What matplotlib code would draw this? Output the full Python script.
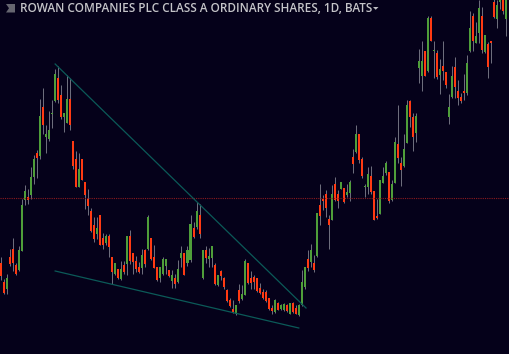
import matplotlib
matplotlib.use("Agg")
import matplotlib.pyplot as plt
from matplotlib.patches import Polygon

TITLE = "ROWAN COMPANIES PLC CLASS A ORDINARY SHARES, 1D, BATS"

opens = [91,72,65,97,105,89,84,103,154,157,159,177,201,198,247,217,215,240,253,276,259,237,231,255,213,195,167,195,172,155,143,129,120,139,116,111,118,97,80,85,75,89,90,118,101,93,87,86,104,105,116,97,87,76,80,88,84,73,76,72,96,101,91,94,126,127,139,76,104,95,96,89,69,83,76,64,54,45,40,64,55,59,91,76,77,76,66,62,62,56,46,42,51,45,44,49,40,51,46,39,49,67,95,92,91,98,149,155,160,135,134,170,160,165,166,159,161,197,202,220,195,167,167,178,163,138,140,171,181,182,154,171,210,191,188,211,253,237,221,286,278,303,283,336,303,301,279,288,282,237,257,287,263,257,263,261,303,338,311,321,338,302,310,313,352,335,352,358,335]
highs = [97,75,80,105,116,91,108,155,169,165,187,199,204,255,266,229,243,254,285,288,269,241,279,276,213,203,201,195,172,165,146,137,137,139,121,120,120,97,91,85,93,93,118,124,101,98,92,105,105,139,116,109,87,87,97,95,84,84,80,94,108,101,108,139,132,152,150,104,108,106,108,91,79,84,77,65,56,54,49,70,69,95,91,83,79,76,71,65,64,56,49,55,52,50,51,50,51,52,49,50,84,87,104,110,99,141,170,159,164,139,169,177,164,172,166,170,174,205,229,220,197,170,187,188,163,155,174,187,193,182,174,217,249,197,220,254,254,241,241,305,313,303,338,338,313,304,295,313,282,260,288,297,274,261,280,299,343,341,332,354,347,319,312,313,356,354,360,360,360]
lows = [74,60,60,88,83,79,83,103,149,150,155,170,176,195,220,201,213,226,252,251,235,222,231,224,185,167,167,174,145,139,122,112,115,109,105,109,97,70,79,75,74,80,79,90,80,82,81,80,87,104,94,86,73,72,79,80,77,66,66,71,87,79,88,92,116,125,116,75,91,87,87,69,68,74,65,52,47,41,39,51,54,59,70,65,65,62,60,55,52,44,40,41,44,44,43,42,40,41,40,38,48,65,83,87,82,97,129,144,137,105,134,153,146,165,151,157,153,181,201,191,176,157,160,160,134,135,140,171,179,151,153,171,191,168,187,211,227,203,212,271,263,278,282,313,276,275,260,274,266,230,256,256,249,251,254,259,302,303,311,311,301,301,276,291,336,326,345,340,318]
closes = [78,61,76,90,91,80,104,149,163,154,177,195,196,238,229,220,224,241,280,254,237,241,255,229,188,167,185,174,159,148,123,115,126,109,109,118,107,82,91,76,85,82,118,93,92,85,82,99,90,137,95,86,74,87,95,95,78,79,70,85,101,79,104,130,117,143,120,104,96,98,108,70,79,78,67,53,48,42,49,53,60,93,71,71,72,63,61,56,53,45,43,54,44,49,50,43,51,42,40,49,72,87,86,104,84,141,138,153,146,129,160,154,153,172,152,162,172,190,220,194,178,168,180,162,134,136,174,178,191,153,170,212,196,184,205,249,237,217,238,293,293,278,336,313,304,277,285,283,269,247,278,267,256,253,261,291,326,313,318,346,304,319,287,311,337,349,358,343,358]

level_price = 156
upper_x = [18, 101.4]
upper_price = [290, 46]
lower_x = [18, 99]
lower_price = [83, 26]

BG = "#05011a"
UP = "#4f9e3a"
DOWN = "#ff3a12"
WICK = "#6d6d7c"
TREND = "#0b5a58"

fig = plt.figure(figsize=(5.09, 3.54), dpi=100, facecolor=BG)
ax = fig.add_axes([0, 0, 1, 1], facecolor=BG)
idx = list(range(len(opens)))
ax.set_xlim(-1 / 3.008, 508 / 3.008)
ax.set_ylim(0, 354)
ax.axis("off")

ax.vlines(idx, lows, highs, colors=WICK, linewidth=0.72, zorder=2)
bottoms = [min(o, c) for o, c in zip(opens, closes)]
heights = [max(abs(c - o), 1.5) for o, c in zip(opens, closes)]
colors = [UP if c >= o else DOWN for o, c in zip(opens, closes)]
ax.bar(idx, heights, bottom=bottoms, width=0.67, color=colors, linewidth=0, zorder=3)

ax.axhline(level_price, color="#8c1a1e", linewidth=0.8, linestyle=(0, (1, 1)), zorder=4)
ax.plot(upper_x, upper_price, color=TREND, linewidth=0.9, zorder=5)
ax.plot(lower_x, lower_price, color=TREND, linewidth=0.9, zorder=5)

tr = ax.transAxes
W, H = 509.0, 354.0
icon = [(6/W, 1-4/H), (15/W, 1-4/H), (15/W, 1-12.5/H), (6/W, 1-12.5/H), (9/W, 1-8.2/H)]
ax.add_patch(Polygon(icon, closed=True, transform=tr, facecolor="#666670", edgecolor="none", zorder=6))

ax.text(19.5/W, 1-8.5/H, TITLE, transform=tr, color="#c4c4c8", fontsize=8.45,
        family="Open Sans", weight=600, va="center", ha="left", zorder=7)
caret = [(373/W, 1-7/H), (378.5/W, 1-7/H), (375.7/W, 1-9.8/H)]
ax.add_patch(Polygon(caret, closed=True, transform=tr, facecolor="#bdbdc2", edgecolor="none", zorder=7))

fig.savefig("out.png", dpi=100, facecolor=BG)
